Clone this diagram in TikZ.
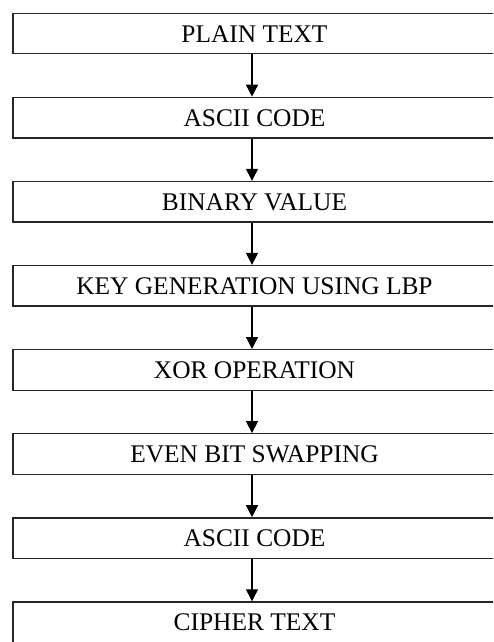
\documentclass[tikz,border=0pt]{standalone}
\usepackage{fontspec}
\setmainfont{Liberation Serif}
\usetikzlibrary{arrows.meta}
\begin{document}
\begin{tikzpicture}[x=1pt,y=-1pt,
  stepbox/.style={draw=black!85, line width=1.3pt, rectangle, minimum width=483pt, minimum height=40.5pt,
    inner sep=0pt, font=\fontsize{25.4}{30}\selectfont, text height=17pt, text depth=0pt},
  flow/.style={draw=black, line width=1.3pt, -{Triangle[width=12pt,length=12pt]}}]
\useasboundingbox (0,0) rectangle (493,642);
\clip (0,0) rectangle (493,642);
\fill[white] (0,0) rectangle (493,642);
\node[stepbox] (n1) at (254.5, 33.5) {PLAIN TEXT};
\node[stepbox] (n2) at (254.5, 117.6) {ASCII CODE};
\node[stepbox] (n3) at (254.5, 201.7) {BINARY VALUE};
\node[stepbox] (n4) at (254.5, 285.8) {KEY GENERATION USING LBP};
\node[stepbox] (n5) at (254.5, 369.9) {XOR OPERATION};
\node[stepbox] (n6) at (254.5, 454.0) {EVEN BIT SWAPPING};
\node[stepbox] (n7) at (254.5, 538.1) {ASCII CODE};
\node[stepbox] (n8) at (254.5, 622.2) {CIPHER TEXT};
\foreach \a/\b in {n1/n2,n2/n3,n3/n4,n4/n5,n5/n6,n6/n7,n7/n8}
  \draw[flow] ([xshift=-2.5pt]\a.south) -- ([xshift=-2.5pt]\b.north);
\end{tikzpicture}
\end{document}
